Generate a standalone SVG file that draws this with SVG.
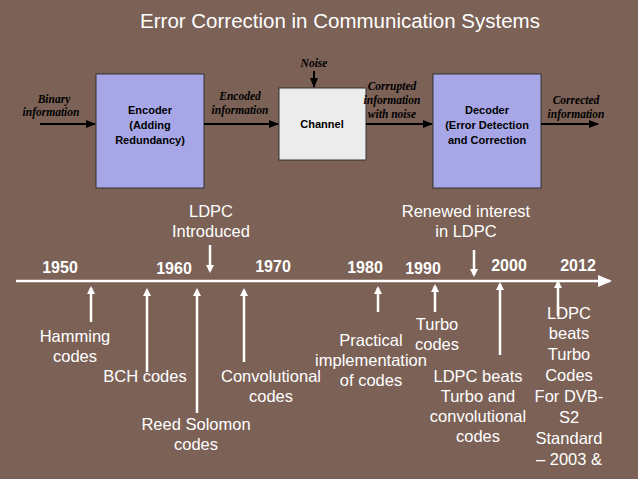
<svg xmlns="http://www.w3.org/2000/svg" width="638" height="479" viewBox="0 0 638 479">
<defs>
<marker id="wa" markerWidth="8" markerHeight="8" refX="6" refY="4" orient="auto" markerUnits="userSpaceOnUse" viewBox="0 0 8 8"><path d="M0,0 L8,4 L0,8 Z" fill="#fff"/></marker>
<marker id="ba" markerWidth="10" markerHeight="8" refX="9" refY="4" orient="auto" markerUnits="userSpaceOnUse"><path d="M0,0 L10,4 L0,8 Z" fill="#000"/></marker>
<marker id="big" markerWidth="14" markerHeight="12" refX="12" refY="6" orient="auto" markerUnits="userSpaceOnUse"><path d="M0,0 L14,6 L0,12 Z" fill="#fff"/></marker>
</defs>
<style>
.w{fill:#fff;font-family:"Liberation Sans",Arial,sans-serif;font-size:16.5px;text-anchor:middle}
.y{fill:#fff;font-family:"Liberation Sans",Arial,sans-serif;font-size:16px;font-weight:bold;text-anchor:middle}
.it{fill:#000;font-family:"Liberation Serif",serif;font-size:11.5px;font-style:italic;font-weight:bold;text-anchor:middle}
.bx{font-family:"Liberation Sans",Arial,sans-serif;font-size:11px;font-weight:bold;text-anchor:middle;fill:#000}
.wl{stroke:#fff;stroke-width:2.5;fill:none}
.bl{stroke:#000;stroke-width:2;fill:none}
</style>
<rect width="638" height="479" fill="#7b6156"/>
<text x="340" y="28" class="w" style="font-size:20.5px">Error Correction in Communication Systems</text>
<g id="enc"><rect x="96" y="74" width="108" height="114" fill="#a7a7e8" stroke="#333"/><text class="bx" x="150" y="114">Encoder</text><text class="bx" x="150" y="129">(Adding</text><text class="bx" x="150" y="144">Redundancy)</text></g>
<g id="chan"><rect x="279" y="88" width="87" height="72" fill="#ececec" stroke="#333"/><text class="bx" x="322" y="128">Channel</text></g>
<g id="dec"><rect x="433" y="74" width="108" height="114" fill="#a7a7e8" stroke="#333"/><text class="bx" x="487" y="114">Decoder</text><text class="bx" x="487" y="129">(Error Detection</text><text class="bx" x="487" y="144">and Correction</text></g>
<g id="labels">
<text class="it" x="314" y="67">Noise</text>
<text class="it" x="54" y="103">Binary</text><text class="it" x="51" y="116">information</text>
<text class="it" x="240" y="100">Encoded</text><text class="it" x="240" y="114">information</text>
<text class="it" x="392" y="90">Corrupted</text><text class="it" x="392" y="104">information</text><text class="it" x="392" y="118">with noise</text>
<text class="it" x="576" y="104">Corrected</text><text class="it" x="576" y="118">information</text>
</g>
<g id="connectors">
<line class="bl" x1="40" y1="124" x2="95" y2="124" marker-end="url(#ba)"/>
<line class="bl" x1="204" y1="124" x2="278" y2="124" marker-end="url(#ba)"/>
<line class="bl" x1="314" y1="71" x2="314" y2="87" marker-end="url(#ba)"/>
<line class="bl" x1="366" y1="124" x2="432" y2="124" marker-end="url(#ba)"/>
<line class="bl" x1="541" y1="124" x2="598" y2="124" marker-end="url(#ba)"/>
<line class="wl" x1="16" y1="281" x2="610" y2="281" marker-end="url(#big)"/>
<line class="wl" x1="91" y1="322" x2="91" y2="288" marker-end="url(#wa)"/>
<line class="wl" x1="147" y1="372" x2="147" y2="290" marker-end="url(#wa)"/>
<line class="wl" x1="197" y1="413" x2="197" y2="290" marker-end="url(#wa)"/>
<line class="wl" x1="244" y1="362" x2="244" y2="290" marker-end="url(#wa)"/>
<line class="wl" x1="378" y1="312" x2="378" y2="288" marker-end="url(#wa)"/>
<line class="wl" x1="435" y1="312" x2="435" y2="286" marker-end="url(#wa)"/>
<line class="wl" x1="500" y1="355" x2="500" y2="284" marker-end="url(#wa)"/>
<line class="wl" x1="558" y1="316" x2="558" y2="282" marker-end="url(#wa)"/>
<line class="wl" x1="210" y1="245" x2="210" y2="271" marker-end="url(#wa)"/>
<line class="wl" x1="474" y1="250" x2="474" y2="275" marker-end="url(#wa)"/>
</g>
<g id="years">
<text class="y" x="60" y="273">1950</text><text class="y" x="174" y="274">1960</text><text class="y" x="273" y="272">1970</text><text class="y" x="365" y="273">1980</text><text class="y" x="423" y="274">1990</text><text class="y" x="509" y="271">2000</text><text class="y" x="578" y="271">2012</text>
</g>
<g id="events">
<text class="w" x="211" y="217">LDPC</text><text class="w" x="211" y="237">Introduced</text>
<text class="w" x="466" y="217">Renewed interest</text><text class="w" x="466" y="237">in LDPC</text>
<text class="w" x="75" y="342">Hamming</text><text class="w" x="75" y="362">codes</text>
<text class="w" x="145" y="382">BCH codes</text>
<text class="w" x="196" y="430">Reed Solomon</text><text class="w" x="196" y="450">codes</text>
<text class="w" x="271" y="382">Convolutional</text><text class="w" x="271" y="402">codes</text>
<text class="w" x="371" y="346">Practical</text><text class="w" x="371" y="366">implementation</text><text class="w" x="371" y="386">of codes</text>
<text class="w" x="437" y="330">Turbo</text><text class="w" x="437" y="350">codes</text>
<text class="w" x="478" y="382">LDPC beats</text><text class="w" x="478" y="402">Turbo and</text><text class="w" x="478" y="422">convolutional</text><text class="w" x="478" y="442">codes</text>
<text class="w" x="569" y="319">LDPC</text><text class="w" x="569" y="339">beats</text><text class="w" x="569" y="360">Turbo</text><text class="w" x="569" y="381">Codes</text><text class="w" x="569" y="402">For DVB-</text><text class="w" x="569" y="423">S2</text><text class="w" x="569" y="444">Standard</text><text class="w" x="569" y="465">– 2003 &amp;</text>
</g>
</svg>
